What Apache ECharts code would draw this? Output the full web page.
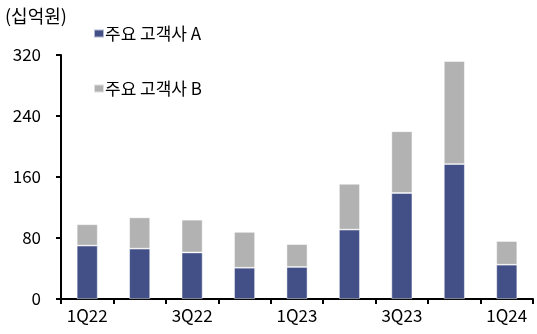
<!DOCTYPE html>
<html>
<head>
<meta charset="utf-8">
<script src="https://cdn.jsdelivr.net/npm/echarts@6/dist/echarts.min.js"></script>
<style>
  html, body { margin: 0; padding: 0; background: #fff; }
  #chart { width: 537px; height: 334px; }
</style>
</head>
<body>
<div id="chart"></div>
<script>
// Quarterly revenue by major customer (unit: 십억원)
const quarters = ['1Q22', '2Q22', '3Q22', '4Q22', '1Q23', '2Q23', '3Q23', '4Q23', '1Q24'];
const customerA = [70, 66, 61, 41, 42, 91, 139, 177, 45];
const customerB = [28, 41, 43, 47, 30, 60, 81, 135, 31];
const yTicks = [0, 80, 160, 240, 320];

const FONT = '"Noto Sans CJK KR", "Noto Sans", sans-serif';
const chart = echarts.init(document.getElementById('chart'));

chart.setOption({
  animation: false,
  textStyle: { fontFamily: FONT },
  title: {
    text: '(십억원)',
    left: 0,
    top: 2,
    textStyle: { fontFamily: FONT, fontSize: 18, fontWeight: 'normal', color: '#000' }
  },
  legend: {
    orient: 'vertical',
    left: 88,
    top: 20,
    itemGap: 38,
    itemWidth: 10,
    itemHeight: 8,
    icon: 'rect',
    textStyle: { fontFamily: FONT, fontSize: 17, color: '#000', padding: [0, 0, 0, -4] },
    data: ['주요 고객사 A', '주요 고객사 B']
  },
  grid: { left: 61, right: 4, top: 55, bottom: 35 },
  xAxis: {
    type: 'category',
    data: quarters,
    axisLine: { lineStyle: { color: '#000', width: 2 } },
    axisTick: { show: true, interval: 0, length: 5, lineStyle: { color: '#000', width: 2 } },
    axisLabel: { interval: 1, margin: 8, fontSize: 17, color: '#000', fontFamily: FONT }
  },
  yAxis: {
    type: 'value',
    min: yTicks[0],
    max: yTicks[yTicks.length - 1],
    interval: yTicks[1] - yTicks[0],
    splitLine: { show: false },
    axisLine: { show: true, lineStyle: { color: '#000', width: 2 } },
    axisTick: { show: true, length: 5, lineStyle: { color: '#000', width: 2 } },
    axisLabel: { margin: 20, fontSize: 17, color: '#000', fontFamily: FONT }
  },
  series: [
    {
      name: '주요 고객사 A',
      type: 'bar',
      stack: 'total',
      data: customerA,
      barWidth: '40%',
      itemStyle: { color: '#425087', borderColor: 'rgba(255,255,255,0.6)', borderWidth: 0.8 }
    },
    {
      name: '주요 고객사 B',
      type: 'bar',
      stack: 'total',
      data: customerB,
      barWidth: '40%',
      itemStyle: { color: '#B2B2B2', borderColor: 'rgba(255,255,255,0.6)', borderWidth: 0.8 }
    }
  ]
});
</script>
</body>
</html>
